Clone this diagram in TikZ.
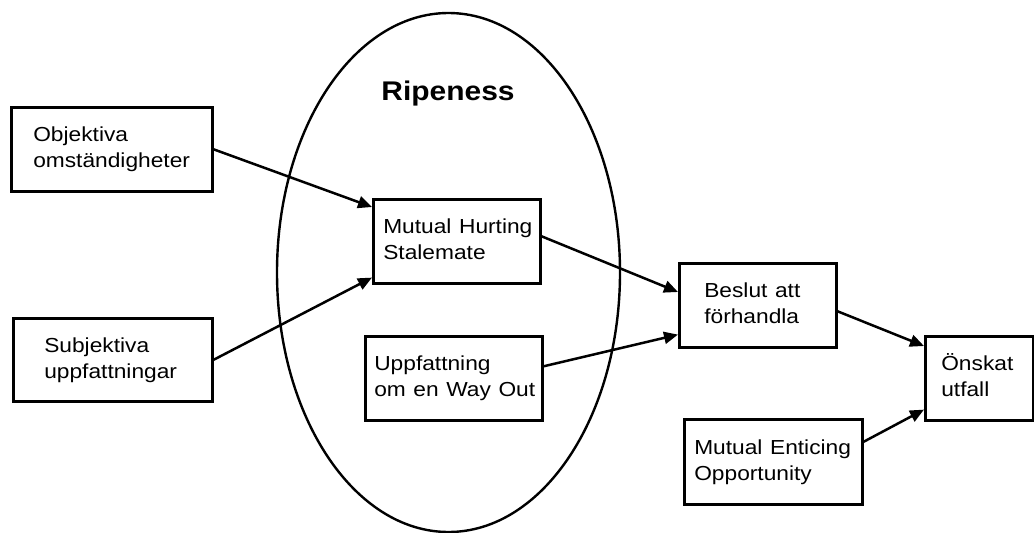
\documentclass[tikz,border=0pt]{standalone}
\usepackage{fontspec}
\setmainfont{Liberation Sans}
\usetikzlibrary{arrows.meta}
\newcommand\stx[1]{\scalebox{1.12}[1]{\begin{tabular}{@{}l@{}}#1\end{tabular}}}
\tikzset{
  box/.style={draw, line width=2.6pt, anchor=north west, inner ysep=0pt, align=left,
    font=\fontsize{20.3}{26}\selectfont},
  arr/.style={line width=2.5pt, -{Triangle[length=14pt,width=12pt]}},
  ring/.style={line width=2.4pt}
}
\begin{document}
\begin{tikzpicture}[x=1pt,y=-1pt]
\useasboundingbox[fill=white] (0,0) rectangle (1034,533);
\draw[ring] (448.5,272.5) ellipse [x radius=171.5, y radius=259.5];
\node[anchor=base, font=\bfseries\fontsize{27}{30}\selectfont] (ripe) at (448,100) {\scalebox{1.11}[1]{Ripeness}};
\node[box, minimum width=201pt, minimum height=84pt, text width=157pt, inner xsep=22pt] (obj) at (10,106) {\stx{Objektiva\\omständigheter}};
\node[box, minimum width=199pt, minimum height=83pt, text width=137pt, inner xsep=31pt] (subj) at (12,317) {\stx{Subjektiva\\uppfattningar}};
\node[box, minimum width=167pt, minimum height=84pt, text width=147pt, inner xsep=10pt] (mhs) at (372,198) {\stx{Mutual Hurting\\Stalemate}};
\node[box, minimum width=177pt, minimum height=84pt, text width=159pt, inner xsep=9pt] (upp) at (364,335) {\stx{Uppfattning\\om en Way Out}};
\node[box, minimum width=157pt, minimum height=84pt, text width=107pt, inner xsep=25pt] (beslut) at (678,262) {\stx{Beslut att\\förhandla}};
\node[box, minimum width=108pt, minimum height=84pt, text width=76pt, inner xsep=16pt] (onskat) at (924,335) {\stx{Önskat\\utfall}};
\node[box, minimum width=178pt, minimum height=85pt, text width=158pt, inner xsep=10pt] (meo) at (683,418) {\stx{Mutual Enticing\\Opportunity}};
\draw[arr] (obj.east) -- ([yshift=-9pt]mhs.north west);
\draw[arr] (subj.east) -- ([yshift=7pt]mhs.south west);
\draw[arr] ([yshift=5pt]mhs.east) -- ([yshift=-30pt]beslut.north west);
\draw[arr] ([yshift=12pt]upp.east) -- ([yshift=14pt]beslut.south west);
\draw[arr] ([yshift=-6pt]beslut.east) -- ([yshift=-11pt]onskat.north west);
\draw[arr] ([yshift=20pt]meo.east) -- ([yshift=12pt]onskat.south west);
\end{tikzpicture}
\end{document}
